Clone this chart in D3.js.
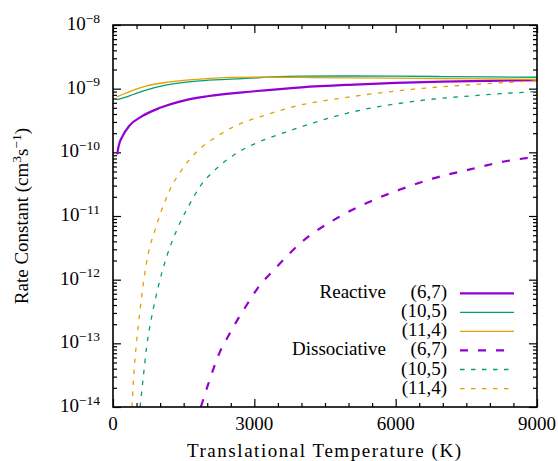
<!DOCTYPE html>
<html><head><meta charset="utf-8">
<script src="https://cdn.jsdelivr.net/npm/d3@7"></script>
<style>
body{margin:0;background:#fff}
svg{display:block}
</style>
</head><body><svg id="chart" width="558" height="461"></svg>
<script>
// ---- data ----
const tReac67 = [90, 120, 200, 350, 600, 1000, 1500, 2000, 3000, 4000, 5000, 6000, 7000, 8000, 9000];
const kReac67 = [9.3e-11, 1.26e-10, 1.78e-10, 2.63e-10, 3.63e-10, 5.0e-10, 6.5e-10, 7.6e-10, 9.1e-10, 1.05e-9, 1.15e-9, 1.23e-9, 1.29e-9, 1.33e-9, 1.36e-9];

const tReac105 = [80, 200, 432, 700, 1140, 1500, 1847, 2500, 2908, 3500, 4000, 5000, 6000, 7000, 8000, 9000];
const kReac105 = [6.7e-10, 7.1e-10, 8.1e-10, 9.5e-10, 1.15e-9, 1.26e-9, 1.33e-9, 1.41e-9, 1.46e-9, 1.55e-9, 1.57e-9, 1.58e-9, 1.57e-9, 1.55e-9, 1.53e-9, 1.51e-9];

const tReac114 = [80, 200, 432, 700, 1140, 1500, 1847, 2500, 3000, 3500, 4000, 5000, 6000, 7000, 8000, 9000];
const kReac114 = [7.4e-10, 8.1e-10, 9.5e-10, 1.10e-9, 1.26e-9, 1.35e-9, 1.41e-9, 1.50e-9, 1.52e-9, 1.51e-9, 1.50e-9, 1.48e-9, 1.46e-9, 1.44e-9, 1.42e-9, 1.40e-9];

const tDiss67 = [1865, 2023, 2271, 2484, 2660, 2838, 3050, 3474, 3970, 4748, 5385, 6093, 6800, 7578, 8356, 9000];
const kDiss67 = [1e-14, 2.3e-14, 7.4e-14, 1.45e-13, 2.47e-13, 4.0e-13, 7.0e-13, 1.58e-12, 3.7e-12, 9.2e-12, 1.6e-11, 2.6e-11, 3.9e-11, 5.4e-11, 7.3e-11, 8.5e-11];

const tDiss105 = [575, 644, 715, 821, 962, 1140, 1352, 1598, 1847, 2201, 2626, 3120, 3686, 4960, 6375, 7790, 9000];
const kDiss105 = [1e-14, 3.0e-14, 8.9e-14, 2.6e-13, 7.8e-13, 2.3e-12, 6.0e-12, 1.4e-11, 2.9e-11, 5.6e-11, 9.7e-11, 1.48e-10, 2.1e-10, 4.1e-10, 6.3e-10, 7.9e-10, 9.0e-10];

const tDiss114 = [404, 432, 503, 573, 644, 750, 892, 1033, 1210, 1458, 1777, 2201, 2554, 3262, 3828, 4960, 6375, 7790, 9000];
const kDiss114 = [1e-14, 2.5e-14, 1.1e-13, 3.3e-13, 8.7e-13, 2.6e-12, 6.0e-12, 1.24e-11, 2.6e-11, 5.3e-11, 1.02e-10, 1.77e-10, 2.5e-10, 3.9e-10, 5.2e-10, 7.3e-10, 9.8e-10, 1.18e-9, 1.33e-9];

const groupLabels = ["Reactive", "", "", "Dissociative", "", ""];
const stateLabels = ["(6,7)", "(10,5)", "(11,4)", "(6,7)", "(10,5)", "(11,4)"];
const xMajorTicks = [0, 3000, 6000, 9000];
const yMajorExps = [-8, -9, -10, -11, -12, -13, -14];

// ---- styles ----
const series = [
  {t: tReac67, k: kReac67, color: "#9400d3", w: 2.2, dash: null},
  {t: tReac105, k: kReac105, color: "#009e73", w: 1.3, dash: null},
  {t: tReac114, k: kReac114, color: "#e69f00", w: 1.3, dash: null},
  {t: tDiss67, k: kDiss67, color: "#9400d3", w: 2.2, dash: "8,10"},
  {t: tDiss105, k: kDiss105, color: "#009e73", w: 1.3, dash: "4.5,6.5"},
  {t: tDiss114, k: kDiss114, color: "#e69f00", w: 1.3, dash: "4.5,6.5"}
];

const FF = "Liberation Serif";
const FS = 19, SUP = 13.5;
const L = 113, R = 537, T = 25, B = 407;
const svg = d3.select("#chart");
const x = d3.scaleLinear().domain([0, 9000]).range([L, R]);
const y = d3.scaleLog().domain([1e-14, 1e-8]).range([B, T]);

svg.append("defs").append("clipPath").attr("id", "clip")
  .append("rect").attr("x", L).attr("y", T).attr("width", R - L).attr("height", B - T);

// ticks
const xMinor = d3.range(0, 9001, 500).filter(v => v % 3000 !== 0);
const yMinor = [];
for (let e = -14; e < -8; e++) for (let m = 2; m <= 9; m++) yMinor.push(m * Math.pow(10, e));
const yMajor = yMajorExps.map(e => Math.pow(10, e));

function tickStyle(g) {
  g.select(".domain").remove();
  g.selectAll("line").attr("stroke", "#000").attr("stroke-width", 1.2);
  g.selectAll("text").remove();
}
svg.append("g").attr("transform", `translate(0,${B})`).call(d3.axisBottom(x).tickValues(xMinor).tickSize(-4)).call(tickStyle);
svg.append("g").attr("transform", `translate(0,${B})`).call(d3.axisBottom(x).tickValues(xMajorTicks).tickSize(-8)).call(tickStyle);
svg.append("g").attr("transform", `translate(0,${T})`).call(d3.axisTop(x).tickValues(xMinor).tickSize(-4)).call(tickStyle);
svg.append("g").attr("transform", `translate(0,${T})`).call(d3.axisTop(x).tickValues(xMajorTicks).tickSize(-8)).call(tickStyle);
svg.append("g").attr("transform", `translate(${L},0)`).call(d3.axisLeft(y).tickValues(yMinor).tickSize(-4)).call(tickStyle);
svg.append("g").attr("transform", `translate(${L},0)`).call(d3.axisLeft(y).tickValues(yMajor).tickSize(-8)).call(tickStyle);
svg.append("g").attr("transform", `translate(${R},0)`).call(d3.axisRight(y).tickValues(yMinor).tickSize(-4)).call(tickStyle);
svg.append("g").attr("transform", `translate(${R},0)`).call(d3.axisRight(y).tickValues(yMajor).tickSize(-8)).call(tickStyle);

// x tick labels
xMajorTicks.forEach(v => {
  svg.append("text").attr("x", x(v)).attr("y", 430).attr("text-anchor", "middle")
    .attr("font-family", FF).attr("font-size", FS).text(v);
});
// y tick labels
yMajorExps.forEach(e => {
  const t = svg.append("text").attr("x", 100).attr("y", y(Math.pow(10, e)) + 5)
    .attr("text-anchor", "end").attr("font-family", FF).attr("font-size", FS);
  t.append("tspan").text("10");
  t.append("tspan").attr("dy", -7.5).attr("font-size", SUP).text("\u2212" + Math.abs(e));
});

// curves
const line = d3.line().x(d => x(d[0])).y(d => y(d[1])).curve(d3.curveMonotoneX);
const plot = svg.append("g").attr("clip-path", "url(#clip)");
series.forEach(s => {
  const pts = s.t.map((t, i) => [t, s.k[i]]);
  plot.append("path").attr("d", line(pts)).attr("fill", "none")
    .attr("stroke", s.color).attr("stroke-width", s.w)
    .attr("stroke-dasharray", s.dash);
});

// border
svg.append("rect").attr("x", L).attr("y", T).attr("width", R - L).attr("height", B - T)
  .attr("fill", "none").attr("stroke", "#000").attr("stroke-width", 1.6);

// legend
const rowY = d3.range(6).map(i => 293.3 + i * 19.05);
series.forEach((s, i) => {
  if (groupLabels[i]) svg.append("text").attr("x", 386).attr("y", rowY[i] + 5)
    .attr("text-anchor", "end").attr("font-family", FF).attr("font-size", FS).text(groupLabels[i]);
  svg.append("text").attr("x", 447).attr("y", rowY[i] + 5)
    .attr("text-anchor", "end").attr("font-family", FF).attr("font-size", FS).text(stateLabels[i]);
  svg.append("line").attr("x1", 460).attr("x2", 514).attr("y1", rowY[i]).attr("y2", rowY[i])
    .attr("stroke", s.color).attr("stroke-width", s.w).attr("stroke-dasharray", s.dash);
});

// axis titles
svg.append("text").attr("x", 324).attr("y", 457).attr("text-anchor", "middle")
  .attr("font-family", FF).attr("font-size", FS).attr("textLength", 274).attr("lengthAdjust", "spacing")
  .text("Translational Temperature (K)");

const yl = svg.append("text").attr("transform", "translate(28,216) rotate(-90)")
  .attr("text-anchor", "middle").attr("font-family", FF).attr("font-size", FS);
yl.append("tspan").text("Rate Constant (cm");
yl.append("tspan").attr("dy", -7).attr("font-size", SUP).text("3");
yl.append("tspan").attr("dy", 7).text("s");
yl.append("tspan").attr("dy", -7).attr("font-size", SUP).text("\u22121");
yl.append("tspan").attr("dy", 7).text(")");
</script>
</body></html>
